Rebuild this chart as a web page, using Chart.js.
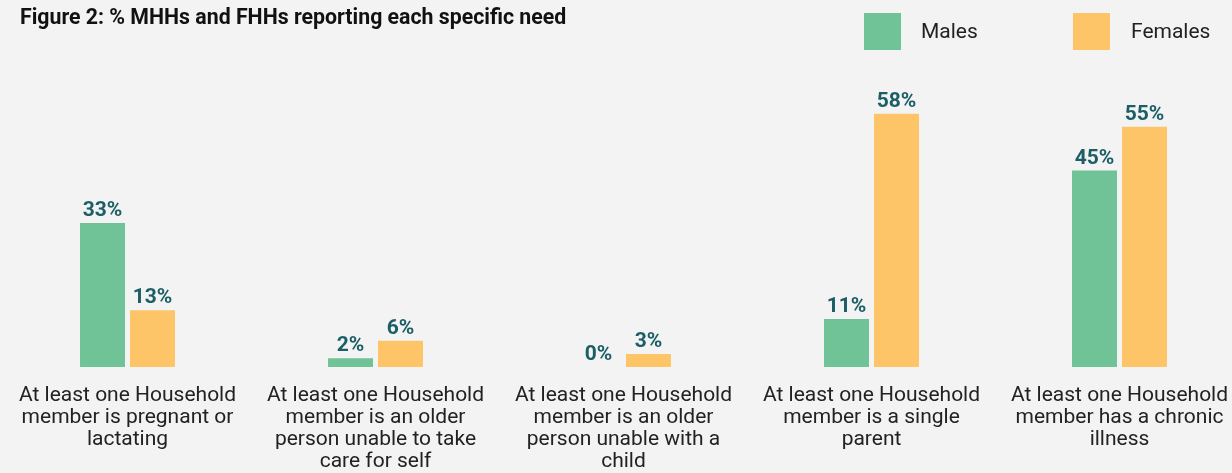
<!DOCTYPE html>
<html>
<head>
<meta charset="utf-8">
<script src="https://cdn.jsdelivr.net/npm/chart.js@4.4.1/dist/chart.umd.min.js"></script>
<style>
  html, body { margin: 0; padding: 0; background: #f3f3f3; overflow: hidden; }
  body { width: 1232px; height: 473px; position: relative; font-family: Roboto, sans-serif; }
  #wrap { position: absolute; left: -4px; top: 0; width: 1256px; height: 491px; }
  #title { position: absolute; left: 20px; top: 4px; font-size: 21.3px; font-weight: bold; color: #111; }
  .leg { position: absolute; top: 13px; font-size: 21px; color: #222; }
  .leg span { position: absolute; top: 0; width: 37px; height: 37px; }
  .leg b { position: absolute; top: 6px; font-weight: normal; white-space: nowrap; }
</style>
</head>
<body>
<div id="wrap"><canvas id="chart"></canvas></div>
<div id="title">Figure 2: % MHHs and FHHs reporting each specific need</div>
<div class="leg" style="left:864px"><span style="background:#6fc396"></span><b style="left:57px">Males</b></div>
<div class="leg" style="left:1073px"><span style="background:#fdc468"></span><b style="left:58px">Females</b></div>
<script>
// categories (one array of lines per label)
const categories = [
    ['At least one Household', 'member is pregnant or', 'lactating'],
    ['At least one Household', 'member is an older', 'person unable to take', 'care for self'],
    ['At least one Household', 'member is an older', 'person unable with a', 'child'],
    ['At least one Household', 'member is a single', 'parent'],
    ['At least one Household', 'member has a chronic', 'illness']
];
const males = [33, 2, 0, 11, 45];
const females = [13, 6, 3, 58, 55];

// Draw the value on top of each bar
const valueLabels = {
    id: 'valueLabels',
    afterDatasetsDraw(chart) {
        const ctx = chart.ctx;
        ctx.save();
        ctx.font = 'bold 21px Roboto';
        ctx.fillStyle = '#1c5e66';
        ctx.textAlign = 'center';
        ctx.textBaseline = 'alphabetic';
        chart.data.datasets.forEach((ds, i) => {
            chart.getDatasetMeta(i).data.forEach((bar, j) => {
                ctx.fillText(ds.data[j] + '%', bar.x, bar.y - 7);
            });
        });
        ctx.restore();
    }
};

const ctx = document.getElementById('chart').getContext('2d');
const chart = new Chart(ctx, {
    type: 'bar',
    data: {
        labels: categories,
        datasets: [
            { label: 'Males', data: males, backgroundColor: '#6fc396' },
            { label: 'Females', data: females, backgroundColor: '#fdc468' }
        ]
    },
    options: {
        responsive: true,
        maintainAspectRatio: false,
        animation: false,
        categoryPercentage: 0.403,
        barPercentage: 0.9,
        layout: { padding: { left: 7.5, right: 8.5, top: 105, bottom: 0 } },
        plugins: {
            legend: { display: false },
            tooltip: { enabled: false }
        },
        scales: {
            x: {
                grid: { display: false, drawTicks: false },
                border: { display: false },
                ticks: {
                    color: '#222',
                    font: { family: 'Roboto', size: 21, lineHeight: '22px' },
                    padding: 18,
                    maxRotation: 0,
                    autoSkip: false
                }
            },
            y: {
                display: false,
                min: 0,
                max: 60
            }
        }
    },
    plugins: [valueLabels]
});
</script>
</body>
</html>
